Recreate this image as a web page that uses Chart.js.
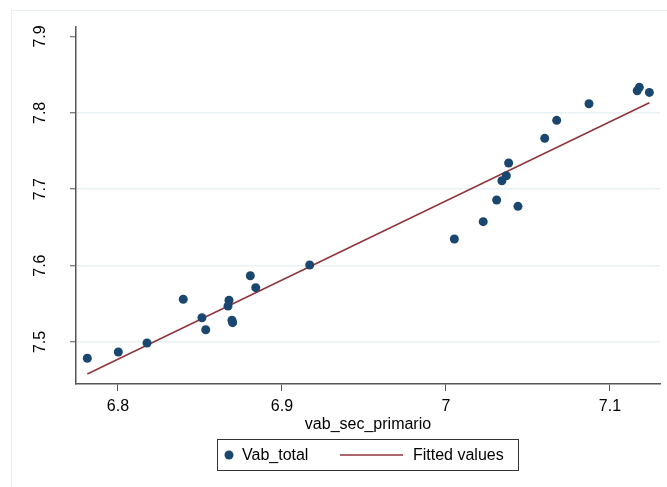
<!DOCTYPE html>
<html>
<head>
<meta charset="utf-8">
<script src="https://cdn.jsdelivr.net/npm/chart.js@4/dist/chart.umd.min.js"></script>
<style>
  html, body { margin: 0; padding: 0; background: #fff; }
  #wrap { width: 667px; height: 487px; }
</style>
</head>
<body>
<div id="wrap"><canvas id="grafico" width="667" height="487"></canvas></div>
<script>
// valores
const vabSecPrimario = [6.7813, 6.8002, 6.8177, 6.8398, 6.8512, 6.8535, 6.8677, 6.8671, 6.8695, 6.8699,
  6.8807, 6.8840, 6.9169, 7.0051, 7.0227, 7.0309, 7.0439, 7.0341, 7.0368, 7.0382,
  7.0602, 7.0675, 7.0872, 7.1166, 7.1179, 7.1240];
const vabTotal = [7.4787, 7.4869, 7.4987, 7.5559, 7.5318, 7.5161, 7.5546, 7.5471, 7.5284, 7.5253,
  7.5868, 7.5711, 7.6008, 7.6348, 7.6575, 7.6859, 7.6776, 7.7111, 7.7177, 7.7343,
  7.7666, 7.7902, 7.8119, 7.8289, 7.8334, 7.8268];
const fittedX = [6.7813, 7.1240];
const fittedY = [7.4581, 7.8132];

const xTicks = [6.8, 6.9, 7.0, 7.1];
const xTickLabels = ['6.8', '6.9', '7', '7.1'];
const yTicks = [7.5, 7.6, 7.7, 7.8, 7.9];
const yTickLabels = ['7.5', '7.6', '7.7', '7.8', '7.9'];

const FONTE = '"Liberation Sans", Arial, sans-serif';
const AZUL = '#1a476f';
const VINHO = '#90353b';

//plugin para moldura, rótulos do eixo y e legenda
const extras = {
  id: 'extras',
  beforeDraw(chart) {
    const ctx = chart.ctx;
    ctx.save();
    ctx.strokeStyle = '#e8efef';
    ctx.lineWidth = 1;
    ctx.strokeRect(11.5, 10.5, 700, 500);
    ctx.restore();
  },
  afterDraw(chart) {
    const ctx = chart.ctx;
    const y = chart.scales.y;
    ctx.save();
    ctx.fillStyle = '#000';
    ctx.font = '16px ' + FONTE;
    ctx.textAlign = 'center';
    ctx.textBaseline = 'middle';
    yTicks.forEach((v, i) => {
      const py = y.getPixelForValue(v);
      ctx.save();
      ctx.translate(41, py);
      ctx.rotate(-Math.PI / 2);
      ctx.fillText(yTickLabels[i], 0, 0);
      ctx.restore();
    });

    // legenda
    const ds = chart.data.datasets;
    const bx = 217.5, by = 439.5, bw = 301, bh = 31;
    ctx.strokeStyle = '#333';
    ctx.lineWidth = 1;
    ctx.strokeRect(bx, by, bw, bh);
    const cy = by + bh / 2;
    ctx.fillStyle = AZUL;
    ctx.beginPath();
    ctx.arc(229, cy, 4.5, 0, Math.PI * 2);
    ctx.fill();
    ctx.fillStyle = '#000';
    ctx.textAlign = 'left';
    ctx.fillText(ds[0].label, 242, cy + 1);
    ctx.strokeStyle = VINHO;
    ctx.lineWidth = 1.5;
    ctx.beginPath();
    ctx.moveTo(340, cy);
    ctx.lineTo(403, cy);
    ctx.stroke();
    ctx.fillText(ds[1].label, 413, cy + 1);
    ctx.restore();
  }
};

const pontos = vabSecPrimario.map((x, i) => ({ x: x, y: vabTotal[i] }));
const reta = fittedX.map((x, i) => ({ x: x, y: fittedY[i] }));

new Chart(document.getElementById('grafico').getContext('2d'), {
  type: 'scatter',
  data: {
    datasets: [{
      label: 'Vab_total',
      data: pontos,
      backgroundColor: AZUL,
      borderColor: AZUL,
      pointRadius: 4.5,
      pointBorderWidth: 0,
      order: 1
    }, {
      label: 'Fitted values',
      data: reta,
      showLine: true,
      borderColor: VINHO,
      borderWidth: 1.5,
      pointRadius: 0,
      order: 2
    }]
  },
  options: {
    responsive: false,
    animation: false,
    layout: { padding: { left: 0, top: 27, right: 7, bottom: 53 } },
    plugins: {
      legend: { display: false },
      tooltip: { enabled: false }
    },
    scales: {
      x: {
        type: 'linear',
        min: 6.7744,
        max: 7.1305,
        afterBuildTicks: (s) => { s.ticks = xTicks.map(v => ({ value: v })); },
        afterFit: (s) => { s.height = 50; },
        ticks: {
          color: '#000',
          font: { family: FONTE, size: 16 },
          padding: 6,
          maxRotation: 0,
          callback: (v) => xTickLabels[xTicks.indexOf(v)]
        },
        grid: { drawOnChartArea: false, drawTicks: true, tickLength: 7, color: '#555', tickWidth: 1 },
        border: { color: '#555', width: 1.5 },
        title: {
          display: true,
          text: 'vab_sec_primario',
          color: '#000',
          font: { family: FONTE, size: 16 },
          padding: { top: 0, bottom: 0 }
        }
      },
      y: {
        type: 'linear',
        min: 7.445,
        max: 7.9124,
        afterBuildTicks: (s) => { s.ticks = yTicks.map(v => ({ value: v })); },
        afterFit: (s) => { s.width = 76; },
        ticks: { display: false },
        grid: {
          color: (c) => (c.tick && c.tick.value === 7.9) ? 'rgba(0,0,0,0)' : '#eaf1f2',
          lineWidth: 1.5,
          tickColor: '#555',
          tickLength: 6,
          tickWidth: 1
        },
        border: { color: '#555', width: 1.5 }
      }
    }
  },
  plugins: [extras]
});
</script>
</body>
</html>
